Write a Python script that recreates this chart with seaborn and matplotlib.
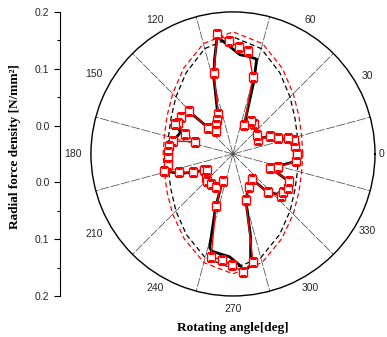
import numpy as np
import pandas as pd
import matplotlib
matplotlib.use("Agg")
import matplotlib.pyplot as plt
import seaborn as sns

# measured curve (red squares): angle in deg, radial force density in N/mm2
red_deg = [0, 7, 13, 16, 19, 26, 30, 39, 55, 61,
           69, 75.5, 81.5, 86.5, 92, 97.5, 103.4, 110, 116, 120,
           127, 134, 135.6, 145, 150.6, 152.6, 157, 162, 168, 173,
           178, 183.5, 189.5, 194, 199, 204.5, 209, 212, 221.8, 227,
           234, 242.5, 249, 252, 258, 264, 269.4, 275, 280.5, 285.5,
           295, 307, 312, 319, 322.6, 328, 334, 339, 343.4, 353.4,
           360]
red_r = [0.062, 0.060, 0.061, 0.050, 0.034, 0.022, 0.000, 0.004, 0.015, 0.016,
         0.005, 0.090, 0.134, 0.138, 0.149, 0.163, 0.096, 0.025, 0.016, 0.008,
         0.001, 0.014, 0.059, 0.062, 0.061, 0.065, 0.041, 0.020, 0.058, 0.064,
         0.064, 0.064, 0.066, 0.075, 0.050, 0.028, 0.008, 0.003, 0.014, 0.016,
         0.016, 0.015, 0.001, 0.046, 0.135, 0.137, 0.146, 0.159, 0.143, 0.035,
         0.015, 0.006, 0.041, 0.062, 0.061, 0.064, 0.060, 0.020, 0.032, 0.062,
         0.062]

# simulated curve (black)
blk_deg = [0, 6, 12, 16, 20, 26, 31, 40, 55, 62,
           69, 74, 76, 81, 86, 92.7, 97.7, 101, 104, 110,
           116, 122, 128, 134, 136, 145, 151, 158, 165, 170,
           178, 184, 190, 195, 200, 205, 210, 214, 222, 228,
           235, 243, 249, 252, 256, 257.6, 262, 268, 273.4, 275.6,
           279, 282, 285.5, 295, 307, 312, 319, 323, 328, 334,
           339, 344, 353, 360]
blk_r = [0.061, 0.059, 0.058, 0.045, 0.032, 0.020, 0.002, 0.004, 0.014, 0.015,
         0.006, 0.085, 0.122, 0.124, 0.125, 0.142, 0.158, 0.120, 0.090, 0.030,
         0.018, 0.008, 0.002, 0.020, 0.058, 0.060, 0.062, 0.050, 0.055, 0.062,
         0.063, 0.064, 0.066, 0.070, 0.050, 0.026, 0.006, 0.004, 0.013, 0.015,
         0.015, 0.014, 0.003, 0.050, 0.120, 0.125, 0.127, 0.131, 0.146, 0.158,
         0.148, 0.100, 0.035, 0.014, 0.005, 0.040, 0.060, 0.060, 0.062, 0.059,
         0.022, 0.030, 0.060, 0.061]

# the two dashed envelopes
env_deg = [0, 15, 30, 45, 60, 75, 90, 105, 120, 135, 150, 165, 180,
           195, 210, 225, 240, 255, 270, 285, 300, 315, 330, 345, 360]
red_env_r = [0.073, 0.075, 0.084, 0.100, 0.124, 0.151, 0.165, 0.151, 0.124, 0.100, 0.084, 0.075, 0.073,
             0.075, 0.084, 0.100, 0.122, 0.148, 0.161, 0.148, 0.122, 0.100, 0.084, 0.075, 0.073]
blk_env_r = [0.065, 0.0675, 0.076, 0.092, 0.115, 0.142, 0.156, 0.142, 0.115, 0.092, 0.076, 0.0675, 0.065,
             0.0675, 0.076, 0.092, 0.114, 0.139, 0.152, 0.139, 0.114, 0.092, 0.076, 0.0675, 0.065]

angle_ticks = [0, 30, 60, 120, 150, 180, 210, 240, 270, 300, 330]
angle_labels = ['0', '30', '60', '120', '150', '180', '210', '240', '270', '300', '330']
spoke_deg = [15, 45, 75, 105, 135, 165, 195, 225, 255, 285, 315, 345]
r_tick_pos = [-0.25, -0.15, -0.05, 0.05, 0.15, 0.25]
r_tick_labels = ['0.2', '0.1', '0.0', '0.0', '0.1', '0.2']

plt.rcParams['font.family'] = ['Liberation Sans', 'DejaVu Sans']

fig = plt.figure(figsize=(3.87, 3.37), dpi=100)
ax = fig.add_axes([0.235, 0.1217, 0.734, 0.843], projection='polar')
r0 = -0.05  # 0.0 does not sit at the centre

for a in spoke_deg:
    ax.plot([np.radians(a)] * 2, [r0, 0.2], color='0.3', lw=0.55,
            ls=(0, (12, 2)), zorder=1)

env = pd.DataFrame({'theta': np.radians(env_deg), 'red': red_env_r, 'blk': blk_env_r})
sns.lineplot(data=env, x='theta', y='blk', sort=False, estimator=None, color='black',
             lw=0.9, linestyle=(0, (4, 2.5)), ax=ax)
sns.lineplot(data=env, x='theta', y='red', sort=False, estimator=None, color='red',
             lw=0.9, linestyle=(0, (4, 2.5)), ax=ax)

blk = pd.DataFrame({'theta': np.radians(blk_deg), 'r': blk_r})
sns.lineplot(data=blk, x='theta', y='r', sort=False, estimator=None, color='black',
             lw=2.0, ax=ax)
red = pd.DataFrame({'theta': np.radians(red_deg), 'r': red_r})
sns.lineplot(data=red, x='theta', y='r', sort=False, estimator=None, color='red',
             lw=1.0, marker='s', markersize=5.5, markerfacecolor='white',
             markeredgecolor='red', markeredgewidth=1.0, ax=ax)

ax.set_rlim(r0, 0.2)
ax.set_yticks([])
ax.set_xticks(np.radians(range(0, 360, 30)))
ax.set_xticklabels([])
ax.grid(False)
ax.tick_params(axis='x', direction='in', length=4, width=0.8, colors='black')
ax.spines['polar'].set_linewidth(1.0)
ax.set_xlabel('')
ax.set_ylabel('')

for a, lab in zip(angle_ticks, angle_labels):
    if a == 0:
        rr = 0.211
    elif a in (150, 180, 210):
        rr = 0.232
    else:
        rr = 0.223
    ax.text(np.radians(a), rr, lab, ha='center', va='center', fontsize=7.5,
            color='0.15', clip_on=False)

# left radial scale
lax = fig.add_axes([60 / 387, 0.1217, 0.0005, 0.843])
lax.patch.set_visible(False)
lax.set_ylim(-0.25, 0.25)
lax.set_xticks([])
for s in ['top', 'right', 'bottom']:
    lax.spines[s].set_visible(False)
lax.spines['left'].set_linewidth(0.8)
lax.set_yticks(r_tick_pos)
lax.set_yticklabels(r_tick_labels, fontsize=7.5, color='0.15')
lax.set_yticks([-0.2, -0.1, 0.1, 0.2], minor=True)
lax.tick_params(axis='y', which='major', length=4, width=0.8, direction='out')
lax.tick_params(axis='y', which='minor', length=2.5, width=0.8, direction='out')

fig.text(0.039, 0.564, 'Radial force density [N/mm²]', rotation=90, ha='center', va='center',
         family='Liberation Serif', fontweight='bold', fontsize=9.5)
fig.text(0.602, 0.027, 'Rotating angle[deg]', ha='center', va='center',
         family='Liberation Serif', fontweight='bold', fontsize=9.5)

fig.savefig('out.png', dpi=100)
